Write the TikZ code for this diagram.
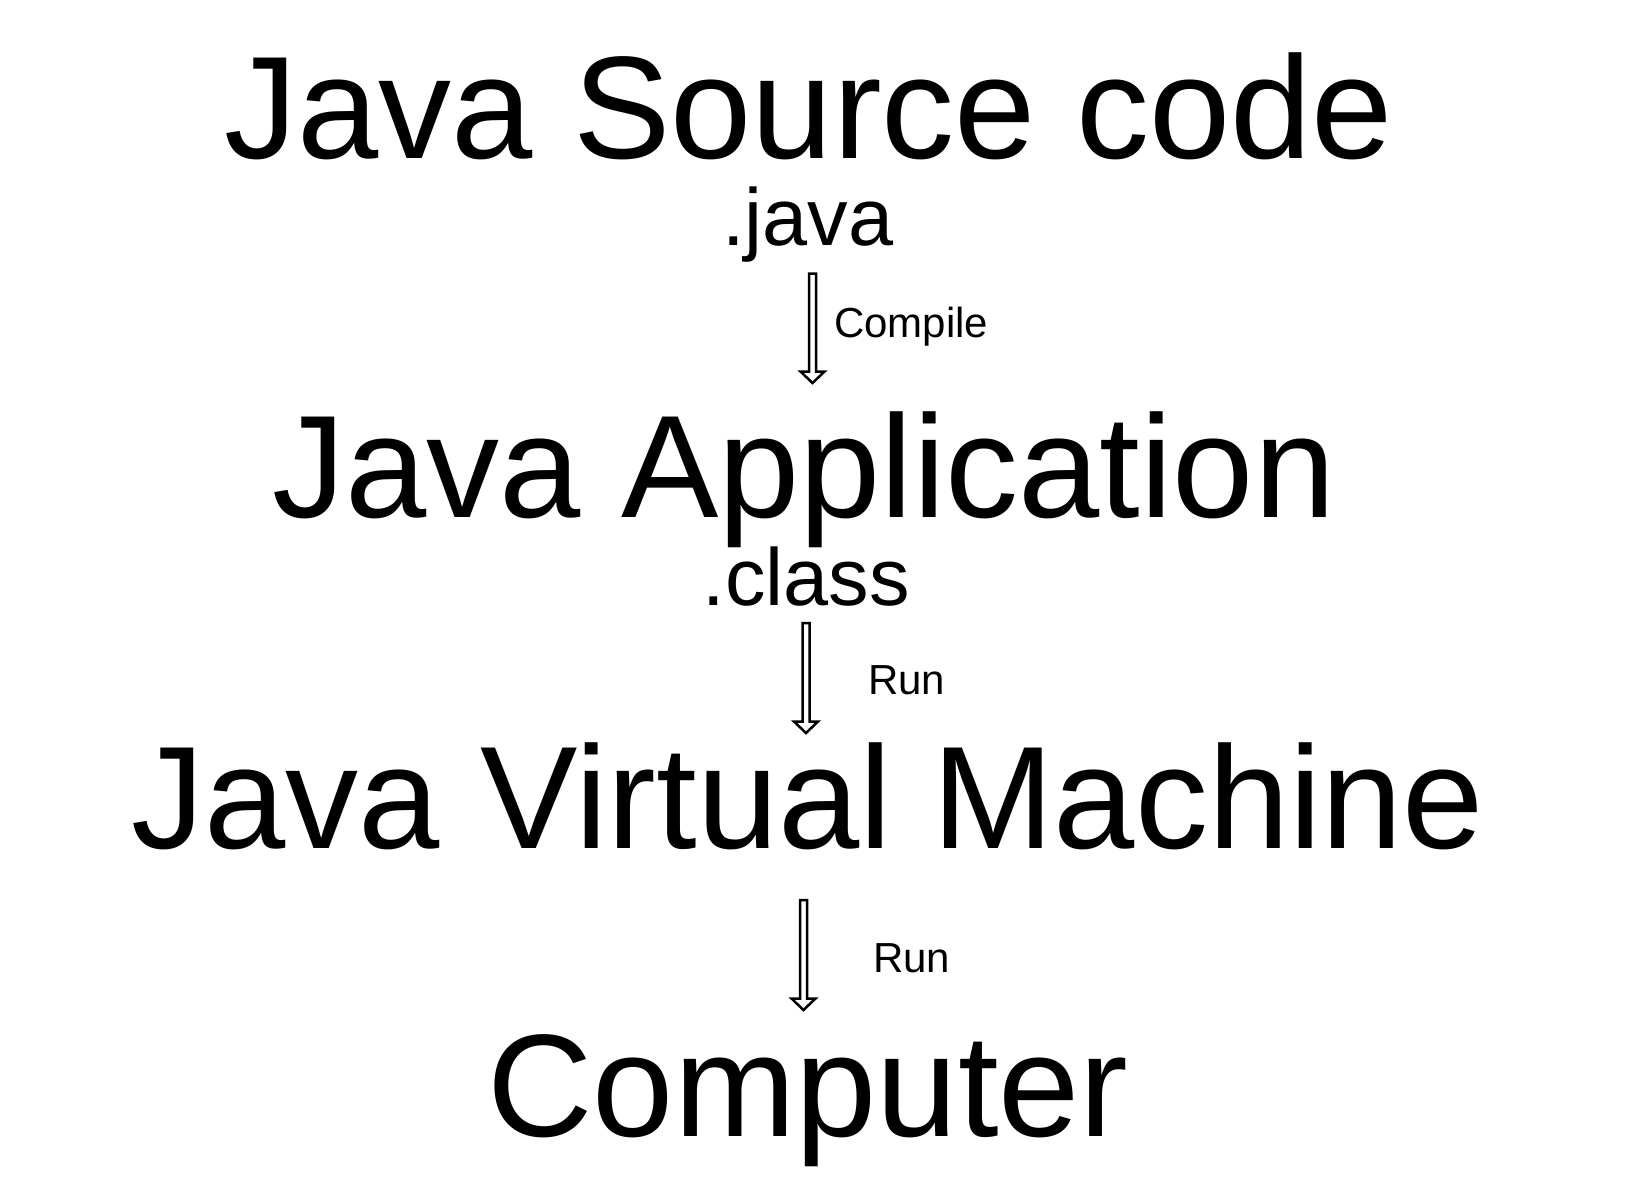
\documentclass[tikz,border=0pt]{standalone}
\usepackage{fontspec}
\setmainfont{Liberation Sans}
\usetikzlibrary{calc}
\tikzset{
  big/.style={anchor=base, inner sep=0pt, font=\fontsize{146}{150}\selectfont},
  ext/.style={anchor=base, inner sep=0pt, font=\fontsize{81}{84}\selectfont},
  lbl/.style={anchor=base west, inner sep=0pt, font=\fontsize{42}{44}\selectfont},
  hollow/.style={draw=black, fill=white, line width=2.5pt, line join=miter}
}
\newcommand{\hollowarrow}[2]{%
  \draw[hollow] ($(#1)+(-3.5,0)$) -- ($(#2)+(-3.5,-11.5)$) -- ($(#2)+(-12,-11.5)$) -- (#2)
    -- ($(#2)+(12,-11.5)$) -- ($(#2)+(3.5,-11.5)$) -- ($(#1)+(3.5,0)$) -- cycle;}
\begin{document}
\begin{tikzpicture}[x=1pt, y=-1pt]
  \useasboundingbox (0,0) rectangle (1630,1200);
  \node[big] (src) at (809,158) {Java Source code};
  \node[ext] (srcext) at (808,245) {.java};
  \node[big] (app) at (804,517) {Java Application};
  \node[ext] (appext) at (806,605) {.class};
  \node[big] (jvm) at (808,848) {Java Virtual Machine};
  \node[big] (comp) at (808,1136) {Computer};
  \node[lbl] (lc) at (834,337) {Compile};
  \node[lbl] (lr1) at (868,694) {Run};
  \node[lbl] (lr2) at (873,972) {Run};
  \coordinate (a1s) at (812.5,273.5);
  \coordinate (a1e) at (812.5,383);
  \coordinate (a2s) at (806,623);
  \coordinate (a2e) at (806,733);
  \coordinate (a3s) at (803.5,900);
  \coordinate (a3e) at (803.5,1010);
  \hollowarrow{a1s}{a1e}
  \hollowarrow{a2s}{a2e}
  \hollowarrow{a3s}{a3e}
\end{tikzpicture}
\end{document}
